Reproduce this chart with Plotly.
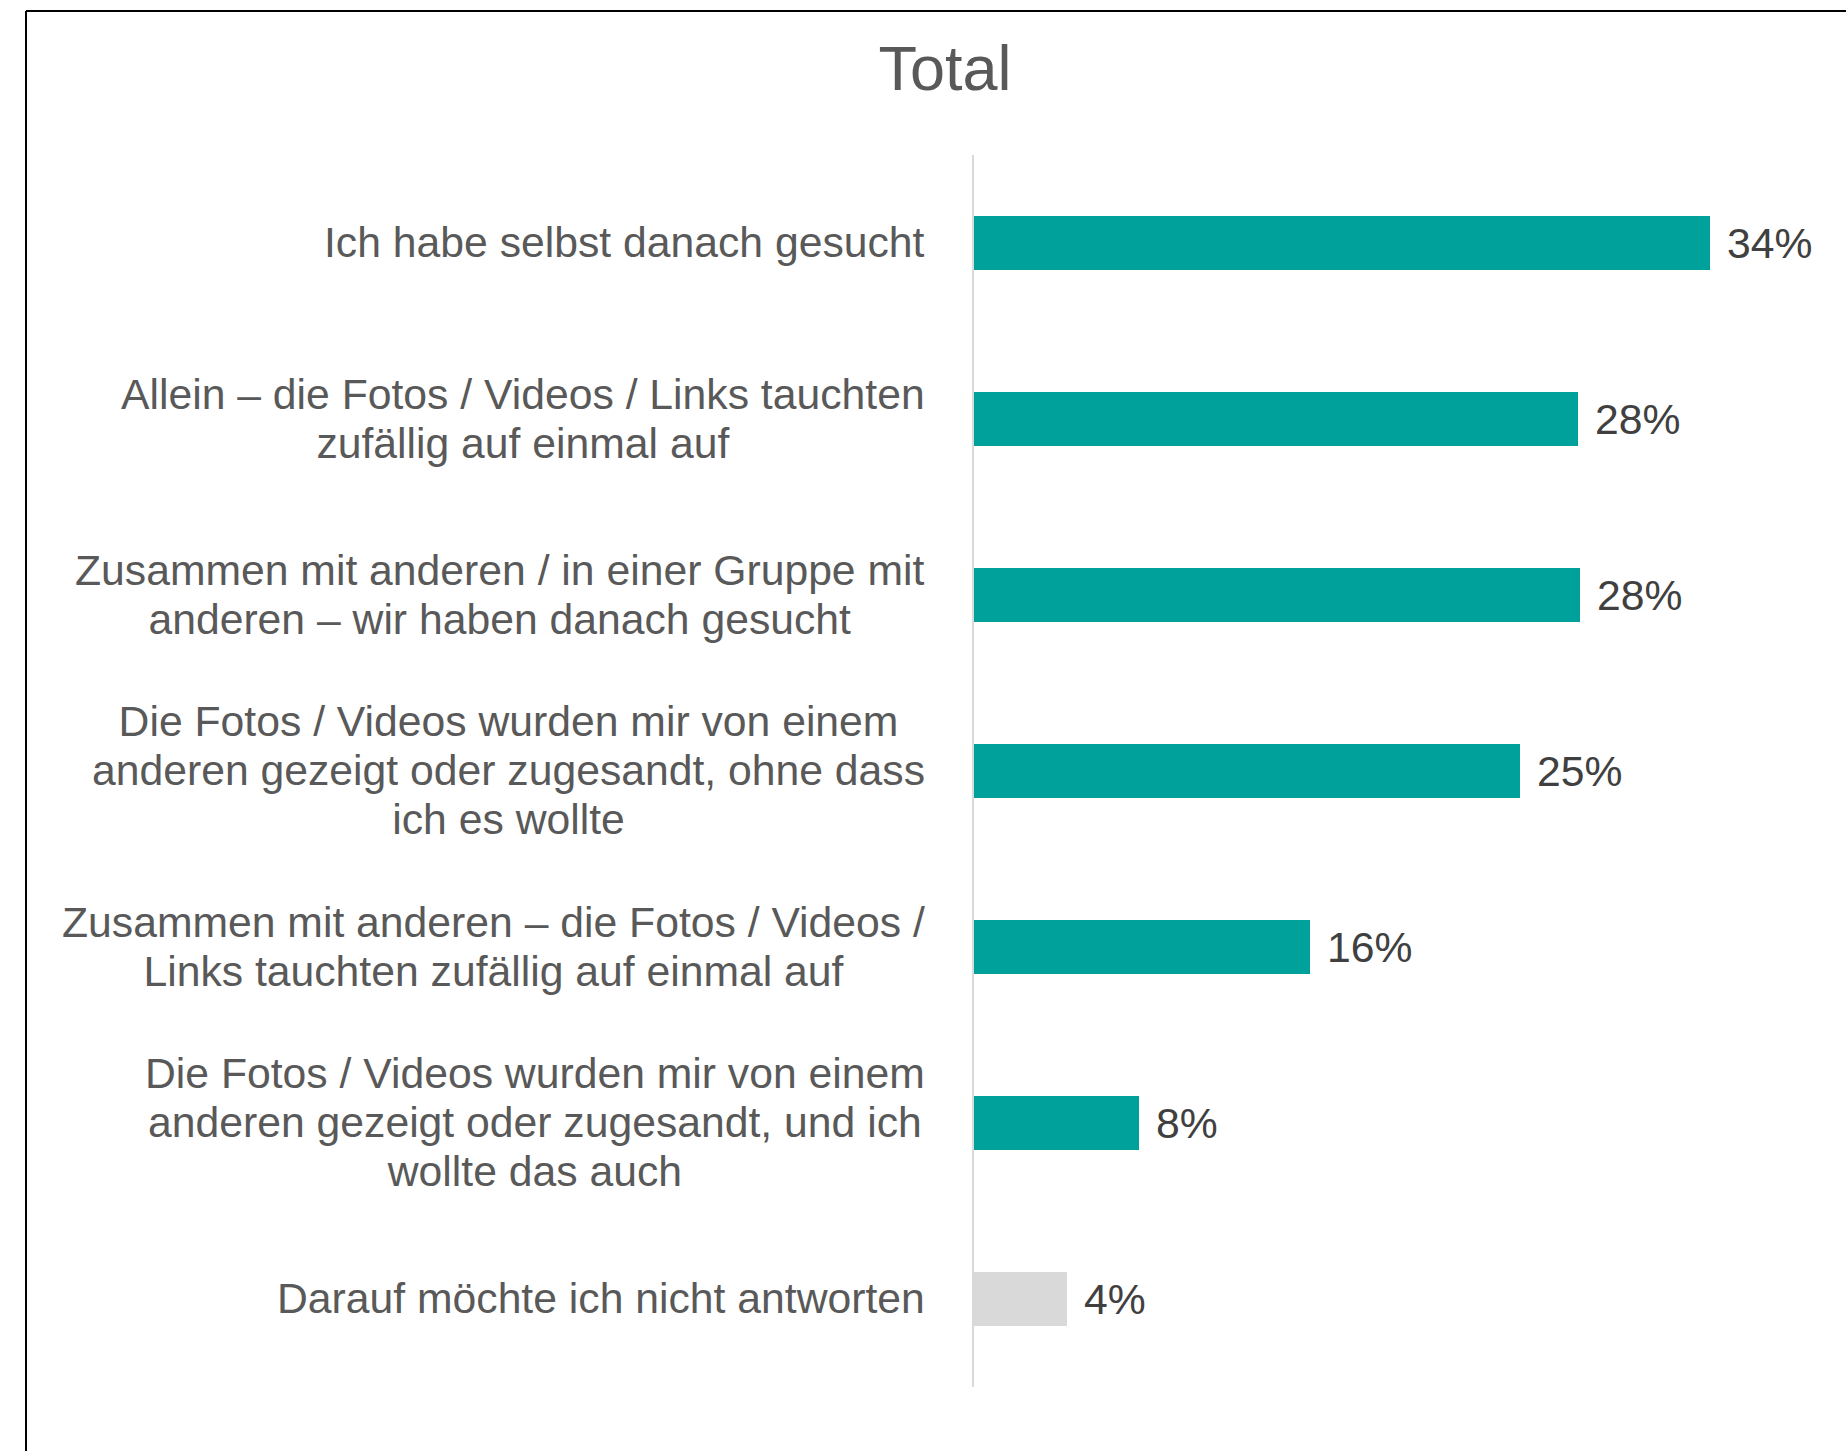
import plotly.graph_objects as go

categories = [
    "Ich habe selbst danach gesucht",
    "Allein – die Fotos / Videos / Links tauchten<br>zufällig auf einmal auf",
    "Zusammen mit anderen / in einer Gruppe mit<br>anderen – wir haben danach gesucht",
    "Die Fotos / Videos wurden mir von einem<br>anderen gezeigt oder zugesandt, ohne dass<br>ich es wollte",
    "Zusammen mit anderen – die Fotos / Videos /<br>Links tauchten zufällig auf einmal auf",
    "Die Fotos / Videos wurden mir von einem<br>anderen gezeigt oder zugesandt, und ich<br>wollte das auch",
    "Darauf möchte ich nicht antworten",
]
values = [34.0, 27.9, 28.0, 25.2, 15.5, 7.6, 4.3]
value_labels = ["34%", "28%", "28%", "25%", "16%", "8%", "4%"]
bar_colors = ["#00A19A"] * 6 + ["#D9D9D9"]

W, H = 1846, 1451
ML, MR, MT, MB = 974, 6, 155, 64
PW, PH = W - ML - MR, H - MT - MB

FONT = "Liberation Sans, Arial, sans-serif"
LABEL_SIZE = 42.7

ids = list(range(len(categories)))

fig = go.Figure(
    go.Bar(
        x=values,
        y=ids,
        orientation="h",
        marker=dict(color=bar_colors, line=dict(width=0)),
        width=0.31,
        hoverinfo="skip",
    )
)

annotations = []
for i, (cat, v, lab) in enumerate(zip(categories, values, value_labels)):
    lines = cat.split("<br>")
    txt = "<br>".join(f"<span style='font-size:{LABEL_SIZE}px'>{ln}</span>" for ln in lines)
    annotations.append(dict(
        x=0, y=i, xref="paper", yref="y", xanchor="right", yanchor="middle",
        xshift=-47, yshift=1, text=txt, align="center", showarrow=False,
        font=dict(family=FONT, size=37.7, color="#595959"),
    ))
    annotations.append(dict(
        x=v, y=i, xref="x", yref="y", xanchor="left", yanchor="middle",
        xshift=15, text=lab, showarrow=False,
        font=dict(family=FONT, size=LABEL_SIZE, color="#404040"),
    ))

def px_to_paper_x(px):
    return (px - ML) / PW

def px_to_paper_y(py):
    return (H - MB - py) / PH

shapes = [
    dict(type="line", xref="paper", yref="paper",
         x0=px_to_paper_x(26), x1=px_to_paper_x(W + 5),
         y0=px_to_paper_y(11), y1=px_to_paper_y(11),
         line=dict(color="#000000", width=2)),
    dict(type="line", xref="paper", yref="paper",
         x0=px_to_paper_x(26), x1=px_to_paper_x(26),
         y0=px_to_paper_y(11), y1=px_to_paper_y(H + 5),
         line=dict(color="#000000", width=2)),
]

fig.update_layout(
    width=W, height=H, autosize=False,
    margin=dict(l=ML, r=MR, t=MT, b=MB, pad=0),
    paper_bgcolor="white", plot_bgcolor="white",
    showlegend=False,
    title=dict(text="Total", x=945 / W, xanchor="center", y=1 - 68 / H, yanchor="middle",
               xref="container", yref="container",
               font=dict(family=FONT, size=63, color="#595959")),
    xaxis=dict(range=[0, 40.0], showgrid=False, zeroline=False, showticklabels=False,
               showline=False, fixedrange=True),
    yaxis=dict(range=[len(categories) - 0.5, -0.5], showgrid=False, zeroline=False,
               showticklabels=False, showline=True, linecolor="#D9D9D9", linewidth=1.5,
               ticks="", fixedrange=True),
    annotations=annotations,
    shapes=shapes,
    bargap=0,
)

fig.write_html(
    "out.html",
    config={"displayModeBar": False},
    post_script="document.body.style.margin='0';document.body.style.overflow='hidden';",
)
